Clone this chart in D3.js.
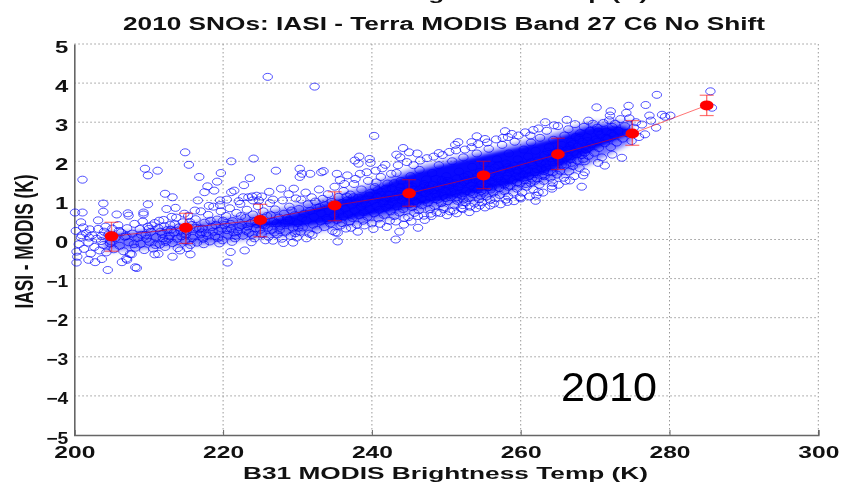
<!DOCTYPE html>
<html><head><meta charset="utf-8"><style>html,body{margin:0;background:#fff}svg{display:block;filter:blur(.35px)}</style>
<script src="https://d3js.org/d3.v7.min.js"></script></head><body><div id="c"></div><script>
const xTicks=[200,220,240,260,280,300];
const yTicks=[-5,-4,-3,-2,-1,0,1,2,3,4,5];
const binTemp=[205,215,225,235,245,255,265,275,285];
const binMean=[0.08,0.30,0.50,0.87,1.18,1.64,2.18,2.71,3.43];
const binHigh=[0.44,0.67,0.90,1.22,1.53,2.00,2.59,3.04,3.69];
const binLow=[-0.30,-0.10,0.07,0.48,0.85,1.30,1.79,2.41,3.17];
const titleMain="2010 SNOs: IASI - Terra MODIS Band 27 C6 No Shift";
const titleCut="B31 MODIS Brightness Temp (K)";
const xName="B31 MODIS Brightness Temp (K)";
const yName="IASI - MODIS (K)";
const yearNote="2010";
// Envelopes of the overplotted cloud, where single circles cannot be read
const haloTemp=[204,208,212,218,225,230,235,240,245,250,255,260,265,270,275];
const haloHigh=[.18,.22,.3,.5,.68,.88,1.12,1.42,1.78,2.02,2.25,2.48,2.74,3,3.02];
const haloLow=[-.28,-.26,-.2,-.12,.05,.12,.3,.45,.65,.85,1.02,1.28,1.58,2,2.5];
const solidTemp=[222,226,229,232,235,240,245,250,255,260,265,270,273,275];
const solidHigh=[.36,.48,.62,.8,.98,1.28,1.66,1.92,2.15,2.36,2.6,2.88,2.9,2.78];
const solidLow=[.32,.34,.32,.38,.45,.62,.82,1.02,1.22,1.48,1.82,2.3,2.56,2.72];
const outlierPairs=[226,4.16,232.3,3.91,240.3,2.65,201.1,1.53,200.1,.69,201.1,.69,203.9,.92,203.9,.71,200.9,.44,203.2,.49,205.7,.64,207.2,.67,207.3,.61,209.3,.69,209.3,.64,209.9,.9,209.5,1.81,209.9,1.64,211.2,1.76,212.2,1.17,213.2,1.08,212.4,.78,213.6,.81,214.9,2.23,215.4,1.91,216.8,1.6,217.9,1.36,217.5,1.21,218.8,1.25,219.2,1.48,219.7,1.7,221.1,2,224.1,2.07,223.6,1.57,222.8,1.39,221.5,1.25,221.1,1.21,216.6,1,220.5,1.02,219.6,1,227.1,1.76,230.3,1.81,230.6,1.68,230.3,1.6,231.7,1.68,233.2,1.72,233.5,1.75,235.3,1.68,236.7,1.64,237.7,2.02,238.3,2.12,238.2,1.94,239.7,2.06,239.8,1.96,241.8,1.91,243.3,2.17,243.8,2.1,244.2,2.34,245,2.23,246.1,2.2,222.7,1.08,223.4,1.08,223.9,1.1,224.5,1.12,225.2,1.1,224,1,235.4,.17,235.4,-.05,243.2,0,243.7,.2,246.2,.3,231.2,.03,229.4,-.08,228.1,-.09,226.7,-.03,204.5,-.78,208.4,-.73,208.2,-.71,220.6,-.59,221,-.32,222.9,-.28,200.3,-.59,200.4,-.44,201.9,-.52,202.8,-.58,203.7,-.5,206.4,-.58,207.1,-.52,207,-.49,213.2,-.44,215.6,-.38,210.8,-.38,211.3,-.37,214.2,-.28,207.7,-.38,285.5,3.79,285.7,3.37,278.3,3.7,276.8,3.44,274.5,3.42,270.2,3.38,272.1,3.28,272,3.17,274.2,3.24,277.3,3.17,277.5,3.04,279,3.19,280.1,3.17,279.4,3.14,278.2,2.86,276.7,2.69,273.6,2.09,272.3,2.17,271.3,1.89,270.4,1.96,268.6,1.72,268.4,1.64,266.6,1.51,268.2,1.35,264.2,1.3,262.4,1.21,262,.99,259.9,1.08,258,1.02,255.9,.87,254.5,.87,252.2,.78,251.4,.67,249.6,.78,247.9,.66,257.9,2.77,261.7,2.8,263.3,3,266.2,3.06,269.1,3.04,261.3,2.66,258.3,2.62,254.1,2.64,255.2,2.57,251.6,2.49,251.2,2.42,253.4,2.49,249,2.21];
const coldPairs=[200.2,.22,200.6,-.12,200.3,-.31,200.9,.05,201.3,-.24,201.6,.16,201.2,.31,201.9,-.08,202.2,-.36,202.4,.11,202.1,.26,202.7,-.19,203,.02,203.2,.27,203.4,-.28,203.7,.09,203.9,-.14,204.2,.33,204.3,-.33,204.6,.13,204.8,-.1,205.1,.28,205.3,-.25,205.5,.03,205.9,.37,206.1,-.16,206.3,.18,206.6,-.3,206.8,.07,207.1,.29,207.3,-.07,207.5,-.37,207.8,.15,208.1,.4,208.2,-.21,208.5,.04,208.8,.27,208.9,-.11,209.2,.46,209.4,-.27,209.6,.12,209.9,.33,210.1,-.06,210.3,.2,210.6,-.23,210.8,.42,211,.06,211.3,.29,211.5,-.13,211.8,.14,212,.5,212.2,-.19,212.5,.24,212.7,.02,212.9,.37,213.2,-.09,213.4,.18,213.7,.56,213.9,-.22,214.1,.31,214.4,.08,214.6,.44,214.9,-.03,215.1,.22,215.3,.6,215.6,-.14,215.8,.37,216,.1,216.3,.52,216.5,-.08,216.8,.27,217,.72,217.3,.02,217.5,.43,217.7,.16,218,.63,218.2,-.05,218.5,.32,218.7,.84,218.9,.09,219.2,.51,219.4,.22,219.7,.72,219.9,-.02,220.2,.37,220.4,.6,220.6,.12,220.9,.8,221.1,.28,221.3,.47,221.6,.03,221.8,.68,222,.21,222.3,.91,222.5,.36,222.7,.1,223,.55,223.2,.76,223.5,.17,223.7,.42,224,.64,224.2,.03,224.4,.29,224.7,.85,224.9,.5,225.2,.14,225.4,.72,225.6,.36,225.9,.6,226.1,.07,226.3,.93,226.6,.25,226.8,.47,227,.77,227.3,.13,227.5,.56,227.7,.35,228,1,228.2,.66,228.4,.2,228.7,.48,228.9,.84,229.1,.09,229.4,.3,229.6,.62,229.8,1.05,230,.42,210.4,.36,212.1,.34,214.7,.17,216.9,.13,218.3,.48,220,.48,222.4,.6,224.6,.39,226.4,.62,228.6,.55,208,-.12,206,.22,204,.2,202,.05,209,.12,211.9,.03,213.5,.39,215.5,.45,217.2,.28,219,.37,221.4,.18,223.3,.33,225,.25,227.2,.42,229.2,.74,230.4,.2,230.6,.55,205,-.05,203.6,-.04,201,.11,207,.09,210,.27,212.8,.1,
209.7,.02,210.9,-.14,211.6,.2,212.3,-.06,213,.25,213.8,.02,214.3,.22,215,.12,215.9,.04,216.4,.3,217.1,.18,217.9,.1,218.6,.2,219.3,.04,219.8,.28,220.5,.24,221,.4,221.7,.1,222.2,.32,223.1,.22,223.9,.12,224.3,.47,225.3,.38,226,.3,226.9,.18,227.6,.24,228.3,.42,229,.5,229.7,.16,230.1,.3,215.2,-.22,217.4,-.12,219.5,-.1,221.2,-.06,223.8,-.07,225.7,-.02,227.9,.02,229.9,.05,211.4,.48,213.1,.58,214.8,.66,216.2,.74,218.1,.86,219.6,.88,222.1,.98,224.8,1,226.7,1.02,228.8,1.16,229.5,1.3,226.2,1.22,227.8,1.3];
const corePairs=[
230.2,.78,230.5,1.02,230.7,.31,230.9,.66,231.1,1.2,231.2,.49,231.4,.9,231.6,.15,231.7,.73,231.9,1.08,232.1,.38,232.2,.58,232.4,.97,232.6,.25,232.7,.81,232.9,1.28,233.1,.46,233.2,.67,233.4,1.04,233.6,.32,233.7,.88,233.9,.55,234.1,1.16,234.2,.72,234.4,.41,234.6,.96,234.7,.22,234.9,.62,235,1.35,235.2,.84,235.3,.5,235.5,1.09,235.6,.71,235.8,.36,235.9,.93,236.1,.59,236.2,1.24,236.4,.79,236.5,.28,236.7,1,236.8,.65,237,.46,237.1,1.15,237.3,.87,237.4,.55,237.6,1.42,237.7,.74,237.9,.95,238,.38,238.2,1.07,238.3,.62,238.5,.83,238.6,1.28,238.8,.48,238.9,.7,239.1,1.02,239.2,.91,239.4,.58,239.5,1.5,239.7,.78,239.8,1.19,240,.41,240.1,.99,240.3,.67,240.4,1.34,240.6,.86,240.7,1.1,240.9,.54,241,.76,241.2,1.6,241.3,1.22,241.5,.93,241.6,.63,241.8,1.05,241.9,.82,242.1,1.43,242.2,1.15,242.4,.48,242.5,.72,242.7,1.31,242.8,.96,243,.6,243.1,1.08,243.3,1.7,243.4,.85,243.6,1.24,243.7,.69,243.9,1.5,244,1.01,244.2,.78,244.3,.38,244.5,1.17,244.6,.92,244.8,1.36,244.9,.57,245.1,1.07,245.2,1.62,245.4,.83,245.5,1.27,245.7,.68,245.8,.98,246,1.45,246.1,1.13,246.3,.75,246.4,1.78,246.6,1.03,246.7,.88,246.9,1.33,247,.61,247.2,1.18,247.3,1.54,247.5,.94,247.6,1.25,247.8,.78,247.9,1.08,248.1,1.7,248.2,1.4,248.4,.86,248.5,1.16,248.7,.69,248.8,1.02,249,1.9,249.1,1.31,249.3,.93,249.4,1.52,249.6,1.12,249.7,.82,249.9,1.24,250,1.62,250.2,.98,250.3,1.41,250.5,.72,250.6,1.08,250.8,2,250.9,1.3,251.1,.88,251.2,1.18,251.4,1.56,251.5,.99,251.7,1.74,251.8,1.36,252,.8,252.1,1.12,252.3,2.1,252.4,1.47,252.6,.95,252.7,1.24,252.9,1.65,253,1.06,253.2,.84,253.3,1.38,253.5,1.86,253.6,1.16,253.8,.92,253.9,1.53,254.1,2.2,254.2,1.28,254.4,1.03,254.5,1.73,254.7,1.42,254.8,.95,255,1.2,255.1,1.95,255.3,1.58,255.4,1.1,255.6,1.34,255.7,2.32,255.9,1.01,256,1.68,256.2,1.47,256.3,1.2,256.5,1.84,256.6,1.06,256.8,2.05,256.9,1.56,257.1,1.32,257.2,1.14,257.4,1.76,257.5,2.42,257.7,1.45,257.8,1.24,258,1.95,258.1,1.63,258.3,1.1,258.4,2.2,258.6,1.38,258.7,1.82,258.9,1.52,259,1.2,259.2,2.5,259.3,1.71,259.5,1.3,259.6,2.05,259.8,1.6,259.9,1.43,260.1,1.9,260.2,1.2,260.4,2.3,260.5,1.52,260.7,1.76,260.8,1.35,261,2.12,261.1,1.63,261.3,1.45,261.4,2.48,261.6,1.9,261.7,1.28,261.9,1.72,262,2.27,262.2,1.56,262.3,2.02,262.5,1.4,262.6,2.6,262.8,1.82,262.9,1.64,263.1,1.5,263.2,2.16,263.4,1.95,263.5,2.78,263.7,1.72,263.8,2.36,264,1.58,264.1,2.08,264.3,1.45,264.4,2.55,264.6,1.86,264.7,2.23,264.9,1.66,265,2.9,265.2,2,265.3,1.76,265.5,2.42,265.6,2.14,265.8,1.58,265.9,2.66,266.1,1.92,266.2,2.3,266.4,2.82,266.5,1.74,266.7,2.06,266.8,2.5,267,1.88,267.1,2.24,267.3,2.95,267.4,2.62,267.6,2.02,267.7,2.38,267.9,1.83,268,2.72,268.2,2.16,268.3,2.5,268.5,2.88,268.6,2,268.8,2.3,268.9,2.62,269.1,2.14,269.3,2.78,269.5,2.44,269.7,2.96,269.9,2.22,270.1,2.56,270.3,2.86,270.5,2.34,270.7,2.68,270.9,2.1,271.1,2.98,271.3,2.46,271.5,2.76,271.7,2.58,271.9,3.05,272.1,2.36,272.3,2.88,272.5,2.66,272.7,2.96,272.9,2.48,273.1,2.78,273.4,3.08,273.7,2.58,274,2.9,274.3,2.72,274.6,3.1,274.9,2.52,275.2,2.86,275.5,3,275.9,2.62,276.3,2.94,
232,.12,233,.83,234,.5,235.1,.18,236,.42,237.2,.3,238.1,.2,239,.36,240.2,.27,241.1,.4,242,.32,243.2,.46,244.4,.55,245.3,.46,246.2,.6,247.1,.5,248,.6,249.2,.68,250.1,.62,251,.74,252.2,.88,253.1,.7,254,.8,255.2,.82,256.4,.92,257.3,.9,258.2,.96,259.1,.98,260,1.05,261.2,1.1,262.1,1.12,263,1.2,264.2,1.36,265.1,1.4,266,1.5,267.2,1.62,
235.7,1.52,236.3,1.42,237.8,1.55,238.4,1.68,239.3,1.72,240.5,1.76,241.4,1.82,242.6,1.68,243.5,1.9,244.7,1.98,245.6,1.9,246.5,2.02,247.4,2.08,248.3,2.12,249.5,2.16,250.4,2.24,251.3,2.28,252.5,2.3,253.4,2.36,254.3,2.44,255.5,2.48,256.7,2.56,257.6,2.6,258.8,2.7,259.7,2.66,260.6,2.74,262.4,2.84,264.5,2.92,
240.8,1.26,241.7,.98,242.3,.89,243.8,1.34,244.1,1.22,245,.9,246.8,1.22,247.7,1.36,248.6,1.55,249.8,1.42,250.7,1.22,251.6,1.34,252.8,1.52,253.7,1.3,254.6,1.12,255.8,1.78,256.1,1.33,257,1.9,257.9,1.55,258.5,1.72,259.4,1.62,260.3,1.66,261.5,1.56,262.7,1.95,263.6,2.25,264.8,2.1,265.7,2.2,266.6,2.4,267.5,2.18,268.7,2.4,
240.6,1.46,241.9,1.3,243,1.44,244.2,1.06,245.4,1.36,246.3,1.26,247.2,1.02,248.4,1.26,249.3,1.2,250.2,1.5,251.4,1.08,252,1.42,253.2,1.2,254.4,1.5,255.3,1.44,256.2,1.6,257.4,1.5,258.3,1.35,259.2,1.88,260.4,1.84,261,1.78,262.2,1.8,263.4,1.84,264.3,1.98,265.2,2.3,266.3,2.14,267,2.44,268.4,2.06,269,2.52,
236.6,1.1,237.5,1.08,238.7,.92,239.6,1.12,241.2,1.14,242.4,1.04,243.6,1.12,244.8,1.12,246,.94,247.5,1.3,248.7,1.1,249.9,1.06,251.1,1.44,252.3,1.02,253.5,1.44,254.7,1.24,255.9,1.5,257.1,1.62,258.3,1.85,259.5,1.46,260.7,1.42,261.9,1.5,263.1,1.75,264.3,1.72,265.5,1.9,266.7,2.3,267.9,2.6,269.1,2.34,270.3,2.5,271.5,2.6,
247,1.42,248.8,1.34,250.4,1.36,252.4,1.6,254.2,1.62,256,1.28,257.8,1.4,259.6,1.76,261.4,1.98,263.2,1.62,265,2.04,266.8,1.96,268.6,2.22,270.4,2.76,272.2,2.72];
const W=842,H=483,L=74.3,R=818.3,T=44,B=435;
const x=d3.scaleLinear().domain([200,300]).range([L,R]);
const y=d3.scaleLinear().domain([-5,5]).range([B,T]);
const svg=d3.select("#c").append("svg").attr("width",W).attr("height",H).style("font-family","'Liberation Sans',Arial,sans-serif");
const defs=svg.append("defs");
defs.append("filter").attr("id","soft").attr("x","-5%").attr("y","-20%").attr("width","110%").attr("height","140%").append("feGaussianBlur").attr("stdDeviation",1.8);
defs.append("filter").attr("id","softer").attr("x","-5%").attr("y","-20%").attr("width","110%").attr("height","140%").append("feGaussianBlur").attr("stdDeviation",2.5);
const gy=svg.append("g").attr("transform",`translate(${L},0)`).call(d3.axisLeft(y).tickValues(yTicks).tickSize(0).tickPadding(6));
gy.select(".domain").attr("stroke","#666").attr("stroke-width",1.6);
gy.selectAll("text").attr("fill","#111").attr("font-size",16).attr("font-weight","bold").attr("dy",0).attr("y",8).attr("textLength",d=>d<0?22:13.3).attr("lengthAdjust","spacingAndGlyphs");
const gx=svg.append("g").attr("transform",`translate(0,${B})`).call(d3.axisBottom(x).tickValues(xTicks).tickSize(-5).tickPadding(0));
gx.select(".domain").attr("stroke","#666").attr("stroke-width",1.6);
gx.selectAll("line").attr("stroke","#666");
gx.selectAll("text").attr("fill","#111").attr("font-size",16).attr("font-weight","bold").attr("dy",0).attr("y",23).attr("textLength",41).attr("lengthAdjust","spacingAndGlyphs");
const grid=svg.insert("g","g").attr("fill","none").attr("stroke","#999").attr("stroke-width",1).attr("stroke-dasharray","1.5 2.5");
grid.selectAll("line.h").data(yTicks.filter(v=>v>-5)).join("line").attr("x1",L).attr("x2",R).attr("y1",d=>y(d)).attr("y2",d=>y(d));
grid.selectAll("line.v").data(xTicks.filter(v=>v>200)).join("line").attr("y1",T).attr("y2",B).attr("x1",d=>x(d)).attr("x2",d=>x(d));
const band=(ts,hi,lo)=>d3.area().curve(d3.curveMonotoneX).x((d,i)=>x(ts[i])).y0((d,i)=>y(lo[i])).y1((d,i)=>y(hi[i]))(ts);
svg.append("path").attr("d",band(haloTemp,haloHigh,haloLow)).attr("fill","#0000ff").attr("fill-opacity",.55).attr("filter","url(#softer)");
svg.append("path").attr("d",band(solidTemp,solidHigh,solidLow)).attr("fill","#0000ff").attr("fill-opacity",.92).attr("filter","url(#soft)");
const toPts=a=>d3.range(0,a.length,2).map(i=>[a[i],a[i+1]]);
const pts=[...toPts(coldPairs),...toPts(corePairs),...toPts(outlierPairs)];
svg.append("g").attr("fill","none").attr("stroke","#0000ff").attr("stroke-width",.95).attr("stroke-opacity",.72)
 .selectAll("ellipse").data(pts).join("ellipse").attr("cx",d=>x(d[0])).attr("cy",d=>y(d[1])).attr("rx",4.7).attr("ry",3.5);
const bins=binTemp.map((t,i)=>({t,m:binMean[i],h:binHigh[i],l:binLow[i]}));
const over=svg.append("g").attr("stroke","#ff0000").attr("stroke-opacity",.55).attr("fill","none");
over.append("path").attr("stroke-width",1).attr("d",d3.line().x(d=>x(d.t)).y(d=>y(d.m))(bins));
over.selectAll("line.s").data(bins).join("line").attr("x1",d=>x(d.t)).attr("x2",d=>x(d.t)).attr("y1",d=>y(d.h)).attr("y2",d=>y(d.l)).attr("stroke-width",1.4);
over.selectAll("line.a").data(bins).join("line").attr("x1",d=>x(d.t)-7).attr("x2",d=>x(d.t)+7).attr("y1",d=>y(d.h)).attr("y2",d=>y(d.h)).attr("stroke-width",1.2);
over.selectAll("line.b").data(bins).join("line").attr("x1",d=>x(d.t)-7).attr("x2",d=>x(d.t)+7).attr("y1",d=>y(d.l)).attr("y2",d=>y(d.l)).attr("stroke-width",1.2);
svg.append("g").attr("fill","#ff0000").selectAll("ellipse").data(bins).join("ellipse").attr("cx",d=>x(d.t)).attr("cy",d=>y(d.m)).attr("rx",6.8).attr("ry",5);
const bold=(s,xp,yp,len,fs)=>svg.append("text").text(s).attr("x",xp).attr("y",yp).attr("text-anchor","middle").attr("font-size",fs).attr("font-weight","bold").attr("fill","#111").attr("textLength",len).attr("lengthAdjust","spacingAndGlyphs");
bold(titleCut,445.5,0,405,17);
bold(titleMain,444,30,642,17.5);
bold(xName,445.5,479,405,17);
svg.append("text").text(yName).attr("transform","translate(33,241.5) rotate(-90)").attr("text-anchor","middle").attr("font-size",25).attr("font-weight","bold").attr("fill","#111").attr("textLength",134).attr("lengthAdjust","spacingAndGlyphs");
svg.append("text").text(yearNote).attr("x",609).attr("y",401).attr("text-anchor","middle").attr("font-size",41).attr("fill","#000").attr("textLength",96).attr("lengthAdjust","spacingAndGlyphs");
</script></body></html>
